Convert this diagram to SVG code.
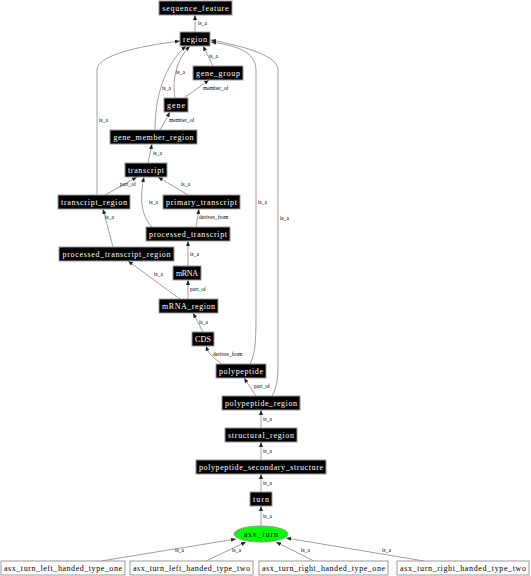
<svg xmlns="http://www.w3.org/2000/svg" width="531" height="576" viewBox="0 0 531 576">
<style>
.n rect{fill:#000;stroke:#999;stroke-width:1}
.n text{fill:#fff;font-family:"Liberation Serif","DejaVu Serif",serif;font-size:8px;text-anchor:middle}
.w rect{fill:#fff;stroke:#999;stroke-width:1}
.w text{fill:#000;font-family:"Liberation Serif","DejaVu Serif",serif;font-size:8px;text-anchor:middle}
.e path{fill:none;stroke:#888;stroke-width:0.8;marker-end:url(#ah)}
.e text{fill:#000;font-family:"Liberation Serif","DejaVu Serif",serif;font-size:5.5px}
</style>
<defs>
<marker id="ah" viewBox="0 0 10 10" refX="10" refY="5" markerWidth="5" markerHeight="5" orient="auto" markerUnits="userSpaceOnUse">
<path d="M0,1 L10,5 L0,9 z" fill="#222"/>
</marker>
</defs>
<rect width="531" height="576" fill="#fff"/>
<g id="connectors" class="e">
<path d="M195,32 L195,15"/><text x="198" y="25">is_a</text>
<path d="M213,66 L203,46"/><text x="209" y="58">is_a</text>
<path d="M175,98 C172,80 176,60 190,46"/><text x="176" y="74">is_a</text>
<path d="M184,98 L209,80"/><text x="203" y="90">member_of</text>
<path d="M155,130 C155,95 165,65 186,46"/><text x="162" y="90">is_a</text>
<path d="M160,130 L170,112"/><text x="169" y="122">member_of</text>
<path d="M97,195 L97,70 C97,55 140,46 180,41"/><text x="99" y="122">is_a</text>
<path d="M148,163 L152,144"/><text x="153" y="155">is_a</text>
<path d="M105,195 L137,177"/><text x="120" y="186">part_of</text>
<path d="M188,195 L158,177"/><text x="181" y="186">is_a</text>
<path d="M152,227 C140,215 140,195 144,177"/><text x="149" y="204">is_a</text>
<path d="M196,227 L199,209"/><text x="199" y="219">derives_from</text>
<path d="M113,247 L103,209"/><text x="105" y="219">is_a</text>
<path d="M188,266 L188,241"/><text x="190" y="256">is_a</text>
<path d="M180,299 L128,261"/><text x="154" y="276">is_a</text>
<path d="M188,299 L188,280"/><text x="190" y="291">part_of</text>
<path d="M203,332 L193,313"/><text x="199" y="324">is_a</text>
<path d="M222,364 C214,358 209,355 206,346"/><text x="213" y="356">derives_from</text>
<path d="M250,364 C256,352 256,340 256,300 L256,70 C256,50 232,45 211,42"/><text x="258" y="204">is_a</text>
<path d="M272,396 C278,385 278,375 278,360 L278,70 C278,55 242,46 211,40"/><text x="280" y="220">is_a</text>
<path d="M256,396 L244,378"/><text x="254" y="388">part_of</text>
<path d="M261,428 L261,410"/><text x="263" y="421">is_a</text>
<path d="M261,460 L261,442"/><text x="263" y="453">is_a</text>
<path d="M261,492 L261,474"/><text x="263" y="485">is_a</text>
<path d="M261,526 L261,506"/><text x="263" y="518">is_a</text>
<path d="M101,561 L236,539"/><text x="175" y="552">is_a</text>
<path d="M206,561 L246,542"/><text x="232" y="552">is_a</text>
<path d="M314,561 L276,542"/><text x="301" y="552">is_a</text>
<path d="M424,561 L286,538"/><text x="382" y="552">is_a</text>
</g>
<g id="sequence_feature" class="n"><rect x="159" y="1" width="73" height="14"/><text x="195.5" y="11" textLength="66" lengthAdjust="spacing">sequence_feature</text></g>
<g id="region" class="n"><rect x="180" y="32" width="30" height="14"/><text x="195" y="42" textLength="24" lengthAdjust="spacing">region</text></g>
<g id="gene_group" class="n"><rect x="193" y="66" width="50" height="14"/><text x="218" y="76" textLength="44" lengthAdjust="spacing">gene_group</text></g>
<g id="gene" class="n"><rect x="164" y="98" width="24" height="14"/><text x="176" y="108" textLength="18" lengthAdjust="spacing">gene</text></g>
<g id="gene_member_region" class="n"><rect x="110" y="130" width="87" height="14"/><text x="153.5" y="140" textLength="80" lengthAdjust="spacing">gene_member_region</text></g>
<g id="transcript" class="n"><rect x="125" y="163" width="42" height="14"/><text x="146" y="173" textLength="36" lengthAdjust="spacing">transcript</text></g>
<g id="transcript_region" class="n"><rect x="58" y="195" width="72" height="14"/><text x="94" y="205" textLength="66" lengthAdjust="spacing">transcript_region</text></g>
<g id="primary_transcript" class="n"><rect x="163" y="195" width="77" height="14"/><text x="201.5" y="205" textLength="71" lengthAdjust="spacing">primary_transcript</text></g>
<g id="processed_transcript" class="n"><rect x="146" y="227" width="84" height="14"/><text x="188" y="237" textLength="78" lengthAdjust="spacing">processed_transcript</text></g>
<g id="processed_transcript_region" class="n"><rect x="59" y="247" width="115" height="14"/><text x="116.5" y="257" textLength="108" lengthAdjust="spacing">processed_transcript_region</text></g>
<g id="mRNA" class="n"><rect x="173" y="266" width="28" height="14"/><text x="187" y="276" textLength="22" lengthAdjust="spacing">mRNA</text></g>
<g id="mRNA_region" class="n"><rect x="159" y="299" width="59" height="14"/><text x="188.5" y="309" textLength="53" lengthAdjust="spacing">mRNA_region</text></g>
<g id="CDS" class="n"><rect x="192" y="332" width="22" height="14"/><text x="203" y="342" textLength="16" lengthAdjust="spacing">CDS</text></g>
<g id="polypeptide" class="n"><rect x="216" y="364" width="50" height="14"/><text x="241" y="374" textLength="44" lengthAdjust="spacing">polypeptide</text></g>
<g id="polypeptide_region" class="n"><rect x="222" y="396" width="78" height="14"/><text x="261" y="406" textLength="72" lengthAdjust="spacing">polypeptide_region</text></g>
<g id="structural_region" class="n"><rect x="225" y="428" width="72" height="14"/><text x="261" y="438" textLength="66" lengthAdjust="spacing">structural_region</text></g>
<g id="polypeptide_secondary_structure" class="n"><rect x="196" y="460" width="130" height="14"/><text x="261" y="470" textLength="124" lengthAdjust="spacing">polypeptide_secondary_structure</text></g>
<g id="turn" class="n"><rect x="250" y="492" width="22" height="14"/><text x="261" y="502" textLength="16" lengthAdjust="spacing">turn</text></g>
<g id="asx_turn"><ellipse cx="261" cy="534" rx="27" ry="8" fill="#00ff00" stroke="#999" stroke-width="1"/><text x="261" y="537" font-family="'Liberation Serif','DejaVu Serif',serif" font-size="8" text-anchor="middle" textLength="34" lengthAdjust="spacing">asx_turn</text></g>
<g id="asx_turn_left_handed_type_one" class="w"><rect x="1" y="561" width="124" height="14"/><text x="63" y="571" textLength="118" lengthAdjust="spacing">asx_turn_left_handed_type_one</text></g>
<g id="asx_turn_left_handed_type_two" class="w"><rect x="130" y="561" width="123" height="14"/><text x="191.5" y="571" textLength="117" lengthAdjust="spacing">asx_turn_left_handed_type_two</text></g>
<g id="asx_turn_right_handed_type_one" class="w"><rect x="259" y="561" width="129" height="14"/><text x="323.5" y="571" textLength="123" lengthAdjust="spacing">asx_turn_right_handed_type_one</text></g>
<g id="asx_turn_right_handed_type_two" class="w"><rect x="397" y="561" width="132" height="14"/><text x="463" y="571" textLength="126" lengthAdjust="spacing">asx_turn_right_handed_type_two</text></g>
</svg>
